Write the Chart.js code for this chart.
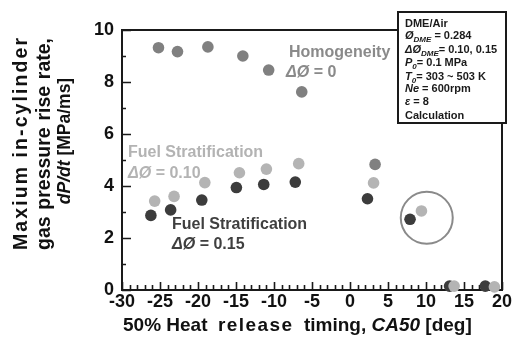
<!DOCTYPE html>
<html>
<head>
<meta charset="utf-8">
<script src="https://cdn.jsdelivr.net/npm/chart.js@4.4.1/dist/chart.umd.min.js"></script>
<style>
  body { margin: 0; background: #fff; }
  #wrap { width: 530px; height: 344px; }
</style>
</head>
<body>
<div id="wrap"><canvas id="chart" width="530" height="344"></canvas></div>
<script>
// CA50 [deg] vs max dP/dt [MPa/ms]
const homoX = [-25.2, -22.7, -18.7, -14.1, -10.7, -6.35, 3.3];
const homoY = [9.32, 9.17, 9.35, 9.0, 8.46, 7.62, 4.83];

const strat10X = [-25.7, -23.15, -19.1, -14.55, -11.0, -6.75, 3.1, 9.4, 13.7, 19.0];
const strat10Y = [3.42, 3.6, 4.13, 4.51, 4.65, 4.86, 4.12, 3.04, 0.15, 0.12];

const strat15X = [-26.2, -23.6, -19.5, -14.95, -11.35, -7.2, 2.3, 7.9, 13.1, 17.8];
const strat15Y = [2.87, 3.08, 3.46, 3.94, 4.06, 4.15, 3.51, 2.72, 0.15, 0.15];

// the circled pair
const markX = [10.1];
const markY = [2.78];

const xTicks = [-30, -25, -20, -15, -10, -5, 0, 5, 10, 15, 20];
const yTicks = [0, 2, 4, 6, 8, 10];

const FONT = '"Liberation Sans", Arial, sans-serif';

const pts = (xs, ys) => xs.map((x, i) => ({x: x, y: ys[i]}));

function setFont(ctx, st, size) {
  const sub = st && st.includes('s');
  const it = st && st.includes('i');
  const sz = sub ? Math.round(size * 0.72) : size;
  ctx.font = `${it ? 'italic ' : ''}bold ${sz}px ${FONT}`;
  return sub;
}

// draws runs of text: [text, style, letterSpacing]; style i = italic, s = subscript
function rich(ctx, x, y, parts, size, color) {
  ctx.fillStyle = color;
  ctx.textBaseline = 'alphabetic';
  ctx.textAlign = 'left';
  for (const [t, st, ls] of parts) {
    const sub = setFont(ctx, st, size);
    const dy = sub ? size * 0.28 : 0;
    if (ls) {
      for (const ch of t) { ctx.fillText(ch, x, y + dy); x += ctx.measureText(ch).width + ls; }
    } else {
      ctx.fillText(t, x, y + dy);
      x += ctx.measureText(t).width;
    }
  }
  return x;
}
function richWidth(ctx, parts, size) {
  let w = 0;
  for (const [t, st, ls] of parts) {
    setFont(ctx, st, size);
    w += ctx.measureText(t).width + (ls ? ls * t.length : 0);
  }
  return w;
}
// spread the characters of one line evenly over length L
function spread(ctx, text, x, y, L) {
  const chars = [...text];
  const w = chars.reduce((s, c) => s + ctx.measureText(c).width, 0);
  const gap = (L - w) / (chars.length - 1);
  for (const c of chars) { ctx.fillText(c, x, y); x += ctx.measureText(c).width + gap; }
}

const framePlugin = {
  id: 'frame',
  beforeDatasetsDraw(chart) {
    const ctx = chart.ctx;
    const a = chart.chartArea;
    const xs = chart.scales.x, ys = chart.scales.y;
    ctx.save();
    ctx.strokeStyle = '#1a1a1a';
    ctx.lineWidth = 2;
    ctx.strokeRect(a.left, a.top, a.right - a.left, a.bottom - a.top);
    ctx.lineWidth = 1.6;
    ctx.beginPath();
    // inward ticks on bottom, every 1 deg
    for (let v = -30; v <= 20; v++) {
      const px = Math.round(xs.getPixelForValue(v)) + 0.5;
      const len = v % 5 === 0 ? 8 : 5;
      ctx.moveTo(px, a.bottom);
      ctx.lineTo(px, a.bottom - len);
    }
    // inward ticks on left, every 1 MPa/ms
    for (let v = 0; v <= 10; v++) {
      const py = Math.round(ys.getPixelForValue(v)) + 0.5;
      const len = v % 2 === 0 ? 9 : 4;
      ctx.moveTo(a.left, py);
      ctx.lineTo(a.left + len, py);
    }
    ctx.stroke();
    ctx.restore();
  },
  afterDraw(chart) {
    const ctx = chart.ctx;
    ctx.save();

    // x title
    rich(ctx, 123, 331, [
      ['50% Heat  '], ['release', '', 1.4], ['  timing, '], ['CA50', 'i'], [' [deg]']
    ], 19, '#111');

    // y title, three rotated lines
    ctx.save();
    ctx.translate(0, 144);
    ctx.rotate(-Math.PI / 2);
    const L = 212;
    ctx.fillStyle = '#111';
    ctx.textAlign = 'left';
    ctx.textBaseline = 'alphabetic';
    ctx.font = `bold 19.5px ${FONT}`;
    spread(ctx, 'Maxium in-cylinder', -L / 2, 27, L);
    const words = ['gas', 'pressure', 'rise', 'rate,'];
    const ww = words.reduce((s, t) => s + ctx.measureText(t).width, 0);
    const gap = (L - ww) / (words.length - 1);
    let cx = -L / 2;
    for (const t of words) { ctx.fillText(t, cx, 50); cx += ctx.measureText(t).width + gap; }
    const l3 = [['dP/dt', 'i'], [' [MPa/ms]']];
    const w3 = richWidth(ctx, l3, 17.5);
    rich(ctx, -w3 / 2 + 3, 70, l3, 17.5, '#111');
    ctx.restore();

    // series notes
    rich(ctx, 289, 57, [['Homogeneity']], 16, '#8a8a8a');
    rich(ctx, 286, 77, [['ΔØ', 'i'], [' = 0']], 16, '#8a8a8a');
    rich(ctx, 128, 157, [['Fuel Stratification']], 16, '#b3b3b3');
    rich(ctx, 128, 178, [['ΔØ', 'i'], [' = 0.10']], 16, '#b3b3b3');
    rich(ctx, 172, 229, [['Fuel Stratification']], 16, '#3f3f3f');
    rich(ctx, 172, 249, [['ΔØ', 'i'], [' = 0.15']], 16, '#3f3f3f');

    // conditions box
    ctx.fillStyle = '#fff';
    ctx.fillRect(398, 12, 108, 111);
    ctx.strokeStyle = '#1a1a1a';
    ctx.lineWidth = 2;
    ctx.strokeRect(398, 12, 108, 111);
    const box = [
      [['DME/Air']],
      [['Ø', 'i'], ['DME', 'is'], [' = 0.284']],
      [['ΔØ', 'i'], ['DME', 'is'], ['= 0.10, 0.15']],
      [['P', 'i'], ['0', 'is'], ['= 0.1 MPa']],
      [['T', 'i'], ['0', 'is'], ['= 303 ~ 503 K']],
      [['Ne', 'i'], [' = 600rpm']],
      [['ε', 'i'], [' = 8']],
      [['Calculation']]
    ];
    const base = [27, 39, 53, 66, 80, 92, 105, 119];
    box.forEach((ln, i) => rich(ctx, 405, base[i], ln, 11, '#1a1a1a'));

    ctx.restore();
  }
};

new Chart(document.getElementById('chart').getContext('2d'), {
  type: 'scatter',
  data: {
    datasets: [
      {
        label: 'ΔØ = 0.10',
        data: pts(strat10X, strat10Y),
        backgroundColor: '#b4b4b4',
        borderWidth: 0,
        pointRadius: 5.8
      },
      {
        label: 'Homogeneity',
        data: pts(homoX, homoY),
        backgroundColor: '#808080',
        borderWidth: 0,
        pointRadius: 5.8
      },
      {
        label: 'ΔØ = 0.15',
        data: pts(strat15X, strat15Y),
        backgroundColor: '#3c3c3c',
        borderWidth: 0,
        pointRadius: 5.8
      },
      {
        label: 'mark',
        data: pts(markX, markY),
        backgroundColor: 'rgba(0,0,0,0)',
        borderColor: '#8a8a8a',
        borderWidth: 2,
        pointRadius: 26
      }
    ]
  },
  options: {
    responsive: false,
    animation: false,
    devicePixelRatio: 1,
    clip: false,
    layout: { padding: { top: 30, right: 19, left: 0, bottom: 0 } },
    plugins: {
      legend: { display: false },
      tooltip: { enabled: false }
    },
    scales: {
      x: {
        type: 'linear',
        min: -30,
        max: 20,
        afterBuildTicks: s => { s.ticks = xTicks.map(v => ({value: v})); },
        afterFit: s => { s.height = 54; },
        grid: { display: false, drawTicks: false },
        border: { display: false },
        ticks: {
          autoSkip: false,
          maxRotation: 0,
          padding: 1,
          color: '#111',
          font: { family: FONT, size: 18, weight: 'bold' }
        }
      },
      y: {
        min: 0,
        max: 10,
        afterBuildTicks: s => { s.ticks = yTicks.map(v => ({value: v})); },
        afterFit: s => { s.width = 122; },
        grid: { display: false, drawTicks: false },
        border: { display: false },
        ticks: {
          padding: 8,
          color: '#111',
          font: { family: FONT, size: 18, weight: 'bold' }
        }
      }
    }
  },
  plugins: [framePlugin]
});
</script>
</body>
</html>
